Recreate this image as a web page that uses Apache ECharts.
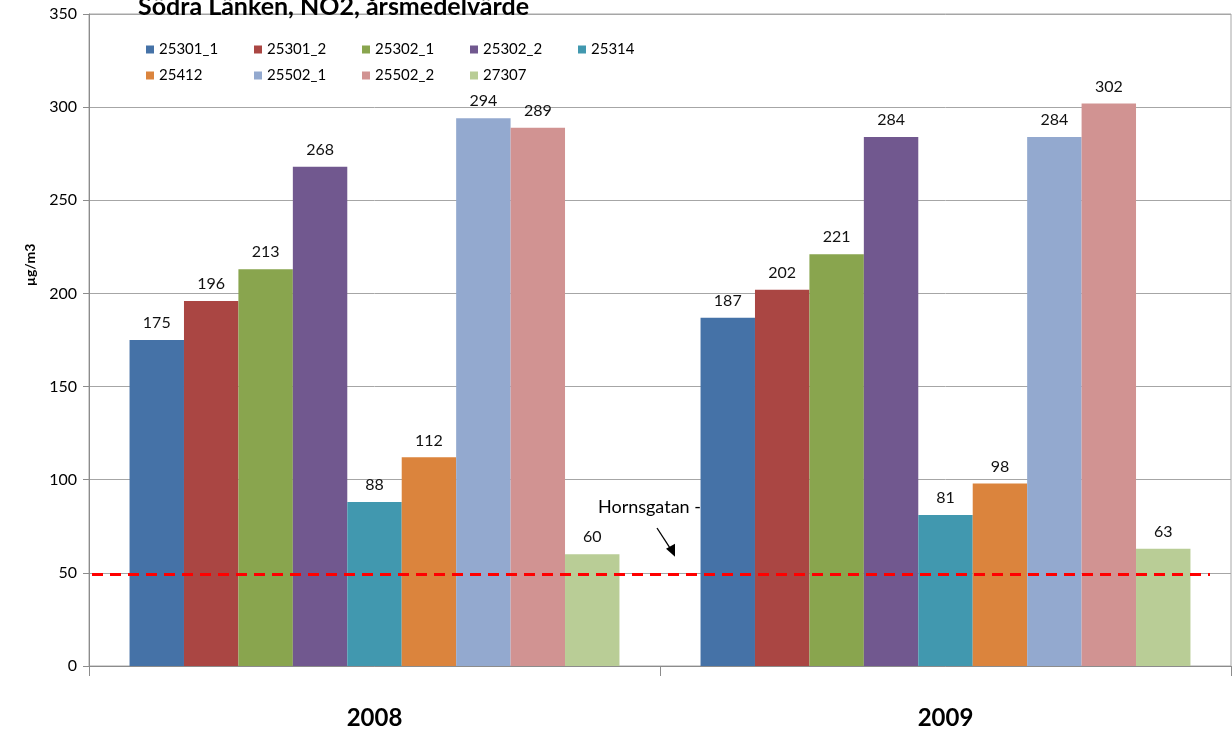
<!DOCTYPE html>
<html>
<head>
<meta charset="utf-8">
<title>Södra Länken, NO2</title>
<script src="https://cdn.jsdelivr.net/npm/echarts@6/dist/echarts.min.js"></script>
<style>
  html, body { margin: 0; padding: 0; background: #fff; }
  #chart { width: 1232px; height: 735px; }
</style>
</head>
<body>
<div id="chart"></div>
<script>
// Years on the category axis
const categories = ['2008', '2009'];

// Measurement stations
const stations = ['25301_1', '25301_2', '25302_1', '25302_2', '25314',
                  '25412', '25502_1', '25502_2', '27307'];

// NO2 values (µg/m3) per station, in station order
const values2008 = [175, 196, 213, 268, 88, 112, 294, 289, 60];
const values2009 = [187, 202, 221, 284, 81, 98, 284, 302, 63];

// Reference level for Hornsgatan (µg/m3)
const hornsgatanLevel = 49;

// Y axis range
const yMin = 0, yMax = 350, yStep = 50;

const palette = ['#4572A7', '#AA4643', '#89A54E', '#71588F', '#4198AF',
                 '#DB843D', '#93A9CF', '#D19392', '#B9CD96'];

const FONT = 'Lato, "Liberation Sans", sans-serif';

const series = stations.map((name, i) => {
  const s = {
    name: name,
    type: 'bar',
    barGap: '0%',
    barCategoryGap: '14.2%',
    itemStyle: { color: palette[i] },
    label: {
      show: true,
      position: 'top',
      distance: 9,
      fontFamily: FONT,
      fontSize: 16,
      color: '#111'
    },
    data: [values2008[i], values2009[i]]
  };
  if (i === 0) {
    s.markLine = {
      silent: true,
      symbol: ['none', 'none'],
      label: { show: false },
      lineStyle: { color: '#ff0000', width: 3, type: [11, 7] },
      data: [[
        { x: 92, yAxis: hornsgatanLevel },
        { x: 1210, yAxis: hornsgatanLevel }
      ]]
    };
  }
  return s;
});

// Legend laid out as a fixed grid: five columns, two rows
const LEGEND_COLS = 5, LEGEND_X0 = 146, LEGEND_DX = 108, LEGEND_Y0 = 42, LEGEND_DY = 26;
const legends = stations.map((name, i) => ({
  data: [name],
  left: LEGEND_X0 + (i % LEGEND_COLS) * LEGEND_DX,
  top: LEGEND_Y0 + Math.floor(i / LEGEND_COLS) * LEGEND_DY,
  padding: 0,
  itemWidth: 8,
  itemHeight: 8,
  icon: 'rect',
  selectedMode: false,
  textStyle: { fontFamily: FONT, fontSize: 15, color: '#000' }
}));

const chart = echarts.init(document.getElementById('chart'), null, { renderer: 'canvas' });

chart.setOption({
  animation: false,
  backgroundColor: '#ffffff',
  title: {
    text: 'Södra Länken, NO2, årsmedelvärde',
    left: 133,
    top: -11,
    textStyle: { fontFamily: FONT, fontSize: 25, fontWeight: 'bold', color: '#000' }
  },
  legend: legends,
  grid: {
    left: 89, right: 1, top: 14, bottom: 69,
    show: true, borderColor: '#a6a6a6', borderWidth: 1,
    containLabel: false
  },
  xAxis: {
    type: 'category',
    data: categories,
    axisLine: { lineStyle: { color: '#8c8c8c', width: 1 } },
    axisTick: { show: true, length: 10, lineStyle: { color: '#8c8c8c' } },
    axisLabel: {
      margin: 40,
      fontFamily: FONT, fontSize: 24, fontWeight: 'bold', color: '#000'
    }
  },
  yAxis: {
    type: 'value',
    min: yMin, max: yMax, interval: yStep,
    name: 'µg/m3',
    nameLocation: 'middle',
    nameGap: 52,
    nameRotate: 90,
    nameTextStyle: {
      fontFamily: FONT, fontSize: 14, fontWeight: 'bold', color: '#000',
      padding: [0, 0, 0, 150]
    },
    axisLine: { show: true, lineStyle: { color: '#8c8c8c' } },
    axisTick: { show: true, length: 6, lineStyle: { color: '#8c8c8c' } },
    axisLabel: { margin: 12, fontFamily: FONT, fontSize: 16, color: '#000' },
    splitLine: { lineStyle: { color: '#a6a6a6', width: 1 } }
  },
  series: series
});

// Annotation pointing at the Hornsgatan reference line
const lineY = chart.convertToPixel({ yAxisIndex: 0 }, hornsgatanLevel);
chart.setOption({
  graphic: [
    {
      type: 'text',
      left: 598,
      top: 498,
      z: 100,
      style: { text: 'Hornsgatan -', fontFamily: FONT, fontSize: 18, fill: '#000' }
    },
    {
      type: 'line',
      z: 100,
      shape: { x1: 657, y1: 528, x2: 673, y2: lineY - 22 },
      style: { stroke: '#000', lineWidth: 1.3 }
    },
    {
      type: 'polygon',
      z: 100,
      shape: {
        points: [
          [675, lineY - 18],
          [666, lineY - 26],
          [675, lineY - 31]
        ]
      },
      style: { fill: '#000' }
    }
  ]
});
</script>
</body>
</html>
